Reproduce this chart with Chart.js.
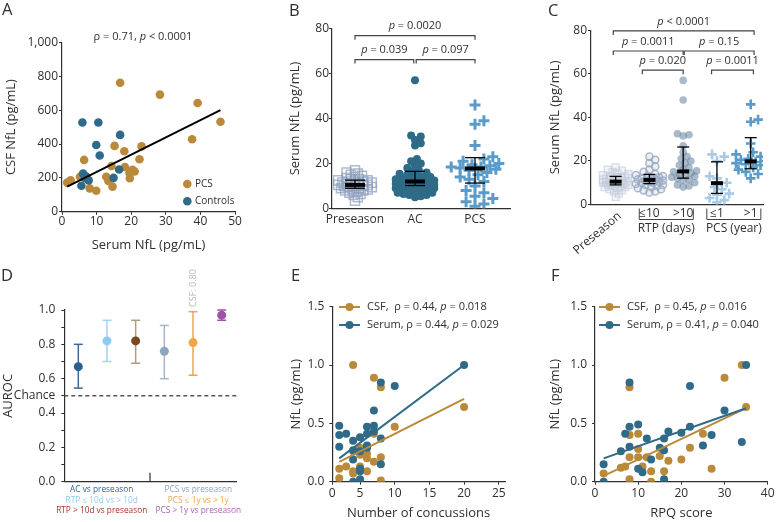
<!DOCTYPE html>
<html>
<head>
<meta charset="utf-8">
<script src="https://cdn.jsdelivr.net/npm/chart.js@4.4.1/dist/chart.umd.min.js"></script>
<style>
  html, body { margin: 0; padding: 0; background: #fff; }
  #wrap { position: relative; width: 777px; height: 522px; overflow: hidden; }
  #wrap canvas { position: absolute; left: 0; top: 0; }
</style>
</head>
<body>
<div id="wrap">
  <canvas id="cA" width="777" height="522"></canvas>
  <canvas id="cB" width="777" height="522"></canvas>
  <canvas id="cC" width="777" height="522"></canvas>
  <canvas id="cD" width="777" height="522"></canvas>
  <canvas id="cE" width="777" height="522"></canvas>
  <canvas id="cF" width="777" height="522"></canvas>
</div>
<script>
// ---------- data ----------

// A: CSF vs serum NfL
const aPcs = [[1.5,172],[2.5,185],[5.2,207],[6.4,306],[8.0,138],[9.9,124],[12.8,207],[13.4,182],[14.6,148],[14.3,270],
  [15.2,389],[16.8,762],[18.0,357],[18.2,264],[19.5,228],[19.6,198],[20.4,248],[21.0,238],[22.4,310],[23.0,386],
  [28.3,692],[37.6,428],[39.2,642],[45.8,532]];
const aControls = [[5.9,527],[10.5,527],[9.9,394],[10.9,332],[16.8,454],[16.5,249],[14.9,200],[6.1,225],[5.6,153],
  [7.0,208],[7.7,185],[6.6,200]];
const aFit = [[1.5,148],[45.8,600]];
const aStat = 'ρ = 0.71, _p_ < 0.0001';
const aSeries = ['PCS', 'Controls'];

// B: serum NfL by group
const bCats = ['Preseason', 'AC', 'PCS'];
const bPreseason = [3.5,5,6,6.5,7,7.5,8,8,8.5,8.5,9,9,9.5,9.5,10,10,10,10.5,10.5,11,11,11,11.5,11.5,12,12,12.5,12.5,
  13,13,13.5,14,14.5,15,15.5,16,17];
const bAC = [5,5.5,6,6,6.5,7,7,7.5,7.5,8,8,8.5,8.5,9,9,9,9.5,9.5,10,10,10,10.5,10.5,10.5,11,11,11,11.5,11.5,11.5,
  12,12,12,12.5,12.5,13,13,13.5,13.5,14,14,14.5,15,15.5,16,16.5,17,18,19,20,21,22,28,29,30.5,32,32.5,57];
const bPCS = [1,2,3,4.5,5.5,7,8,10,12,13,14,15,16,17,17.5,18,18.5,18.5,19,19.5,20,21,22,23,28,37.5,39,46];
const bMedian = [10.5, 12, 17.8];
const bQ1 = [9, 10.2, 11.3];
const bQ3 = [12.6, 16.5, 22.6];
const bPvals = ['= 0.0020', '= 0.039', '= 0.097'];

// C: serum NfL by RTP / PCS duration
const cCats = ['Preseason', '≤10', '>10', '≤1', '>1'];
const cGroups = ['RTP (days)', 'PCS (year)'];
const cPreseason = bPreseason;
const cRtpShort = [5.5,6,6.5,7,7.5,8,8.5,9,9,9.5,10,10,10.5,10.5,11,11,11.5,11.5,12,12,12.5,13,13,13.5,14,15,16,
  17.5,19,20.5,22];
const cRtpLong = [8,8.5,9,10,11,11.5,12,12.5,13,13.5,14,14.5,15,15.5,16,17,18,19,20,21,22,24,27,31.5,32,32.5,48,57];
const cPcsShort = [1,2,3,4.5,5,7,8,10,12,13,20,22,23];
const cPcsLong = [12,14,15,16,17,18,18.5,19,19.5,20,20.5,21,22,23,24,28,38,39,46];
const cMedian = [10.5, 11.3, 15.2, 9.8, 19.8];
const cQ1 = [9, 9.6, 12.1, 5.1, 16.4];
const cQ3 = [12.9, 13.8, 26.4, 19.6, 30.7];
const cPvals = ['< 0.0001', '= 0.0011', '= 0.15', '= 0.020', '= 0.0011'];

// D: AUROC
const dLabels = ['AC vs preseason', 'RTP ≤ 10d vs > 10d', 'RTP > 10d vs preseason',
  'PCS vs preseason', 'PCS ≤ 1y vs > 1y', 'PCS > 1y vs preseason'];
const dAuc = [0.67, 0.82, 0.82, 0.76, 0.81, 0.97];
const dLo = [0.545, 0.70, 0.69, 0.60, 0.62, 0.94];
const dHi = [0.80, 0.94, 0.94, 0.91, 0.99, 1.00];
const dChance = 0.5;
const dCsfNote = 'CSF: 0.80';

// E: NfL vs number of concussions
const eCsf = [[4,1.0],[7,0.89],[8,0.81],[10,0.47],[20,0.64],[7,0.41],[5,0.29],[6,0.30],[4,0.26],[5,0.23],[6,0.24],
  [6,0.20],[7,0.17],[8,0.21],[3,0.13],[2,0.11],[4,0.09],[4,0.07],[5,0.13],[5,0.11],[6,0.09],[2,0.03],[8,0.01]];
const eSerum = [[20,1.0],[8,0.85],[10,0.82],[7,0.61],[2,0.48],[2,0.40],[3,0.41],[6,0.47],[7,0.48],[5,0.38],[7,0.43],
  [6,0.41],[2,0.30],[4,0.35],[4,0.27],[6,0.31],[6,0.29],[8,0.37],[5,0.26],[4,0.19],[5,0.11],[5,0.09],[8,0.15],
  [5,0.02],[4,0.0]];
const eCsfFit = [[2,0.17],[20,0.71]];
const eSerumFit = [[2,0.2],[20,1.0]];
const eLegend = ['CSF,  ρ = 0.44, _p_ = 0.018', 'Serum, ρ = 0.44, _p_ = 0.029'];

// F: NfL vs RPQ score
const fCsf = [[2,0.07],[6,0.12],[7,0.13],[8,0.81],[8,0.40],[8,0.21],[8,0.02],[10,0.41],[10,0.28],[10,0.21],[11,0.13],
  [12,0.21],[13,0.09],[13,0.0],[15,0.22],[16,0.09],[17,0.18],[20,0.19],[22,0.29],[25,0.41],[27,0.11],[30,0.89],
  [34,1.0],[35,0.64]];
const fSerum = [[2,0.15],[2,0.0],[6,0.26],[7,0.41],[8,0.85],[8,0.47],[8,0.30],[10,0.49],[10,0.11],[11,0.08],[12,0.37],
  [13,0.19],[15,0.29],[16,0.37],[16,0.27],[16,0.02],[17,0.43],[20,0.42],[22,0.82],[22,0.47],[25,0.31],[27,0.40],
  [30,0.61],[34,0.34],[35,1.0]];
const fCsfFit = [[2,0.05],[35,0.63]];
const fSerumFit = [[2,0.2],[35,0.63]];
const fLegend = ['CSF,  ρ = 0.45, _p_ = 0.016', 'Serum, ρ = 0.41, _p_ = 0.040'];

// ---------- helpers ----------
const W = 777, H = 522;
const FONT = "'Open Sans', sans-serif";
const INK = '#2f2f2f';
const GOLD = '#BA8A3A', TEAL = '#2F6A88';

const pt = arr => arr.map(([x, y]) => ({x, y}));

// text with _italic_ runs
function rich(ctx, str, x, y, size, align, color) {
  const runs = str.split('_').map((s, i) => [s, i % 2 === 1]).filter(r => r[0]);
  ctx.save();
  ctx.textBaseline = 'middle';
  ctx.textAlign = 'left';
  ctx.fillStyle = color || INK;
  const fonts = runs.map(r => (r[1] ? 'italic ' : '') + size + 'px ' + FONT);
  const ws = runs.map((r, i) => { ctx.font = fonts[i]; return ctx.measureText(r[0]).width; });
  const total = ws.reduce((a, b) => a + b, 0);
  let cx = align === 'left' ? x : x - total / 2;
  runs.forEach((r, i) => { ctx.font = fonts[i]; ctx.fillText(r[0], cx, y); cx += ws[i]; });
  ctx.restore();
}

function txt(ctx, s, x, y, size, o = {}) {
  ctx.save();
  ctx.font = size + 'px ' + FONT;
  ctx.fillStyle = o.color || INK;
  ctx.textAlign = o.align || 'center';
  ctx.textBaseline = 'middle';
  ctx.translate(x, y);
  if (o.rot) ctx.rotate(o.rot);
  ctx.fillText(s, 0, 0);
  ctx.restore();
}

function line(ctx, pts, color, width, dash) {
  ctx.save();
  ctx.strokeStyle = color; ctx.lineWidth = width;
  if (dash) ctx.setLineDash(dash);
  ctx.beginPath();
  pts.forEach(([x, y], i) => i ? ctx.lineTo(x, y) : ctx.moveTo(x, y));
  ctx.stroke();
  ctx.restore();
}

function bracket(ctx, xs, ys, x0, x1, level, label) {
  const a = xs.getPixelForValue(x0), b = xs.getPixelForValue(x1), y = ys.getPixelForValue(level);
  line(ctx, [[a, y + 4], [a, y], [b, y], [b, y + 4]], '#444', 1.2);
  rich(ctx, '_p_ ' + label, (a + b) / 2, y - 9.5, 11);
}

function summaryBars(ctx, xs, ys, med, q1, q3, half) {
  med.forEach((m, i) => {
    const x = xs.getPixelForValue(i);
    const yl = ys.getPixelForValue(q1[i]), yh = ys.getPixelForValue(q3[i]), ym = ys.getPixelForValue(m);
    line(ctx, [[x, yl], [x, yh]], '#000', 1.3);
    line(ctx, [[x - half, yl], [x + half, yl]], '#000', 1.3);
    line(ctx, [[x - half, yh], [x + half, yh]], '#000', 1.3);
    line(ctx, [[x - half, ym], [x + half, ym]], '#000', 4);
  });
}

// simple deterministic beeswarm layout: values stay as read, only x spreads out
function swarm(vals, cat, pxX, pxY, d, maxHalf) {
  const placed = [], out = [];
  [...vals].sort((a, b) => a - b).forEach(v => {
    const y = v * pxY;
    let best = 0, bestGap = -1;
    for (let k = 0; k < 400; k++) {
      const off = (k % 2 ? 1 : -1) * Math.ceil(k / 2) * d * 0.35;
      if (Math.abs(off) > maxHalf) break;
      let gap = Infinity;
      placed.forEach(p => { gap = Math.min(gap, Math.hypot(p.x - off, p.y - y)); });
      if (gap >= d) { best = off; bestGap = gap; break; }
      if (gap > bestGap) { bestGap = gap; best = off; }
    }
    placed.push({x: best, y});
    out.push({x: cat + best / pxX, y: v});
  });
  return out;
}

function axis(o) {
  return {
    type: 'linear', min: o.min, max: o.max,
    border: { display: true, color: INK, width: 1.2 },
    grid: { display: !o.noMarks, drawOnChartArea: false, drawTicks: true, tickLength: 3, color: INK, lineWidth: 1 },
    ticks: {
      display: !o.noLabels, stepSize: o.step, padding: o.pad == null ? 1 : o.pad, color: INK,
      font: { family: FONT, size: 12 }, autoSkip: false, maxRotation: 0,
      callback: o.fmt || (v => v)
    },
    title: o.title ? { display: true, text: o.title, color: INK, font: { family: FONT, size: 13 }, padding: 0 }
                   : { display: false },
    afterBuildTicks: o.tickVals ? s => { s.ticks = o.tickVals.map(v => ({ value: v })); } : undefined,
    afterFit: s => {
      if (s.isHorizontal()) s.height = o.box; else s.width = o.box;
      s.paddingLeft = s.paddingRight = s.paddingTop = s.paddingBottom = 0;
    }
  };
}

// area = [left, top, right, bottom] of the plot area in page pixels
function makeChart(id, area, x, y, datasets, hooks) {
  const [l, t, r, b] = area;
  return new Chart(document.getElementById(id), {
    type: 'scatter',
    data: { datasets },
    options: {
      responsive: false, animation: false, events: [],
      layout: { padding: { left: l - y.box, top: t, right: W - r, bottom: H - b - x.box } },
      plugins: { legend: { display: false }, tooltip: { enabled: false } },
      scales: { x: axis(x), y: axis(y) }
    },
    plugins: [{
      id: 'decor' + id,
      beforeDatasetsDraw: c => hooks.before && hooks.before(c.ctx, c.scales.x, c.scales.y),
      afterDraw: c => hooks.after && hooks.after(c.ctx, c.scales.x, c.scales.y)
    }]
  });
}

function letter(ctx, s, x, y) { txt(ctx, s, x, y, 16.5, { align: 'left' }); }

function dots(data, color, r) {
  return { data: pt(data), pointRadius: r, pointBackgroundColor: color, pointBorderColor: color, pointBorderWidth: 0 };
}
function fitLine(data, color, w) {
  return { type: 'line', data: pt(data), showLine: true, borderColor: color, borderWidth: w, pointRadius: 0 };
}

// ---------- A ----------
makeChart('cA', [62, 42.5, 235, 211.7],
  { min: 0, max: 50, step: 10, box: 41.1, pad: 0, title: 'Serum NfL (pg/mL)' },
  { min: 0, max: 1000, step: 200, box: 58.8, pad: 1, title: 'CSF NfL (pg/mL)', fmt: v => v.toLocaleString('en-US') },
  [fitLine(aFit, '#000', 2), dots(aControls, TEAL, 4.3), dots(aPcs, GOLD, 4.3)],
  { after: (ctx) => {
      letter(ctx, 'A', 2, 10);
      rich(ctx, aStat, 143, 37, 11);
      [[GOLD, 184], [TEAL, 201.3]].forEach(([c, y], i) => {
        ctx.save(); ctx.fillStyle = c; ctx.beginPath(); ctx.arc(187.3, y, 4.3, 0, 7); ctx.fill(); ctx.restore();
        txt(ctx, aSeries[i], 195, y, 10, { align: 'left' });
      });
  } });

// ---------- B ----------
const bPxX = 60, bPxY = 180 / 80;
makeChart('cB', [332, 28.5, 510, 208.5],
  { min: -0.383, max: 2.583, box: 20, pad: 1, noMarks: true, tickVals: [0, 1, 2], fmt: v => bCats[v] },
  { min: 0, max: 80, step: 20, box: 44.3, pad: 0, title: 'Serum NfL (pg/mL)' },
  [
    { data: swarm(bPCS, 2, bPxX, bPxY, 8.5, 25), pointStyle: 'cross', pointRadius: 5.5, pointBorderWidth: 3,
      pointBorderColor: '#5B9BC9' },
    { data: swarm(bAC, 1, bPxX, bPxY, 5.5, 20), pointRadius: 4, pointBackgroundColor: '#2E6B87',
      pointBorderColor: '#2E6B87', pointBorderWidth: 0 },
    { data: swarm(bPreseason, 0, bPxX, bPxY, 4, 18), pointStyle: 'rect', pointRadius: 6.4, pointBorderWidth: 1.5,
      pointBackgroundColor: 'rgba(0,0,0,0)', pointBorderColor: 'rgba(140,158,188,0.7)' }
  ],
  { after: (ctx, xs, ys) => {
      letter(ctx, 'B', 289, 11);
      summaryBars(ctx, xs, ys, bMedian, bQ1, bQ3, 10);
      bracket(ctx, xs, ys, 0, 2, 76.8, bPvals[0]);
      bracket(ctx, xs, ys, 0, 0.98, 66.2, bPvals[1]);
      bracket(ctx, xs, ys, 1.02, 2, 66.2, bPvals[2]);
  } });

// ---------- C ----------
const cPxX = 33.75, cPxY = 174.2 / 80;
makeChart('cC', [591, 30.3, 763, 204.5],
  { min: -0.73, max: 4.364, box: 10, noMarks: true, noLabels: true },
  { min: 0, max: 80, step: 20, box: 43.5, pad: 1, title: 'Serum NfL (pg/mL)' },
  [
    { data: swarm(cPcsLong, 4, cPxX, cPxY, 7, 15), pointStyle: 'cross', pointRadius: 4.8, pointBorderWidth: 2.6,
      pointBorderColor: '#5B9BC9' },
    { data: swarm(cPcsShort, 3, cPxX, cPxY, 7, 14), pointStyle: 'cross', pointRadius: 4.8, pointBorderWidth: 2.6,
      pointBorderColor: '#A9CBE6' },
    { data: swarm(cRtpLong, 2, cPxX, cPxY, 5.5, 15), pointRadius: 3.8, pointBackgroundColor: 'rgba(98,130,158,0.55)',
      pointBorderColor: 'rgba(98,130,158,0.55)', pointBorderWidth: 0 },
    { data: swarm(cRtpShort, 1, cPxX, cPxY, 5.5, 15), pointRadius: 3.6, pointBorderWidth: 1.5,
      pointBackgroundColor: 'rgba(160,176,198,0.2)', pointBorderColor: 'rgba(150,168,192,0.8)' },
    { data: swarm(cPreseason, 0, cPxX, cPxY, 4.5, 14), pointStyle: 'rect', pointRadius: 5, pointBorderWidth: 1.3,
      pointBackgroundColor: 'rgba(210,216,228,0.25)', pointBorderColor: 'rgba(190,200,218,0.6)' }
  ],
  { after: (ctx, xs, ys) => {
      letter(ctx, 'C', 548, 11);
      summaryBars(ctx, xs, ys, cMedian, cQ1, cQ3, 6);
      bracket(ctx, xs, ys, -0.07, 4.1, 79.7, cPvals[0]);
      bracket(ctx, xs, ys, -0.07, 2.0, 70.5, cPvals[1]);
      bracket(ctx, xs, ys, 2.03, 4.1, 70.5, cPvals[2]);
      bracket(ctx, xs, ys, 0.79, 2.0, 61.7, cPvals[3]);
      bracket(ctx, xs, ys, 2.84, 4.08, 61.7, cPvals[4]);
      const base = ys.bottom;
      txt(ctx, cCats[0], xs.getPixelForValue(0) + 4, base + 10, 12, { align: 'right', rot: -0.7 });
      for (let i = 1; i < 5; i++) txt(ctx, cCats[i], xs.getPixelForValue(i), base + 9, 12);
      [[1, 2], [3, 4]].forEach(([a, b], g) => {
        const xa = xs.getPixelForValue(a - 0.3), xb = xs.getPixelForValue(b + 0.3), yb = base + 15;
        line(ctx, [[xa, base + 4], [xa, yb], [xb, yb], [xb, base + 4]], '#444', 1);
        txt(ctx, cGroups[g], (xs.getPixelForValue(a) + xs.getPixelForValue(b)) / 2, base + 24, 12);
      });
  } });

// ---------- D ----------
const dPoint = ['#2E5F92', '#8FCBF0', '#7A4A1F', '#8EA5C0', '#F2A446', '#A052A8'];
const dBar = ['#3A6A9A', '#9FD3F2', '#B49A7C', '#A4B6CC', '#F2A446', '#A052A8'];
const dText = ['#2E5F9E', '#8FCBF0', '#A8322C', '#8EA5C0', '#F2A446', '#B060B8'];
makeChart('cD', [64.3, 310, 236.7, 481.7],
  { min: -0.488, max: 5.523, box: 10, noMarks: true, noLabels: true },
  { min: 0, max: 1, step: 0.1, box: 64.3, pad: 6, title: 'AUROC',
    fmt: v => { const r = Math.round(v * 10); return r === dChance * 10 ? 'Chance' : (r % 2 ? '' : (r / 10).toFixed(1)); } },
  [{ data: dAuc.map((v, i) => ({ x: i, y: v })), pointRadius: 4.5, pointBackgroundColor: dPoint,
     pointBorderColor: dPoint, pointBorderWidth: 0 }],
  { before: (ctx, xs, ys) => {
      const yc = ys.getPixelForValue(dChance);
      line(ctx, [[xs.left, yc], [xs.right, yc]], '#555', 1.5, [4, 3]);
      dAuc.forEach((v, i) => {
        const x = xs.getPixelForValue(i), a = ys.getPixelForValue(dLo[i]), b = ys.getPixelForValue(dHi[i]);
        line(ctx, [[x, a], [x, b]], dBar[i], 1.5);
        line(ctx, [[x - 4.5, a], [x + 4.5, a]], dBar[i], 1.5);
        line(ctx, [[x - 4.5, b], [x + 4.5, b]], dBar[i], 1.5);
      });
    },
    after: (ctx, xs, ys) => {
      letter(ctx, 'D', 1, 276);
      const sx = xs.getPixelForValue(2.5);
      line(ctx, [[sx, ys.bottom], [sx, ys.bottom - 9]], INK, 1.2);
      txt(ctx, dCsfNote, xs.getPixelForValue(4), 288, 9, { color: '#b8b8b8', rot: -Math.PI / 2 });
      dLabels.forEach((s, i) => {
        const col = i < 3 ? 101.7 : 198.3, row = i % 3;
        txt(ctx, s, col, 489.3 + row * 10.9, 8.3, { color: dText[i] });
      });
  } });

// ---------- E & F ----------
function legendRows(ctx, x0, rows) {
  [[GOLD, 307], [TEAL, 325]].forEach(([c, y], i) => {
    line(ctx, [[x0, y], [x0 + 21, y]], c, 2);
    ctx.save(); ctx.fillStyle = c; ctx.beginPath(); ctx.arc(x0 + 10.5, y, 4, 0, 7); ctx.fill(); ctx.restore();
    rich(ctx, rows[i], x0 + 28, y, 11, 'left');
  });
}

makeChart('cE', [332.3, 306.7, 505, 481.7],
  { min: 1, max: 25.9, box: 39.4, pad: 1.5, title: 'Number of concussions', tickVals: [1, 5, 10, 15, 20, 25],
    fmt: v => v === 1 ? '0' : v },
  { min: 0, max: 1.5, step: 0.5, box: 44.1, pad: 5, title: 'NfL (pg/mL)', fmt: v => v.toFixed(1) },
  [fitLine(eSerumFit, TEAL, 2), fitLine(eCsfFit, GOLD, 2), dots(eSerum, TEAL, 4), dots(eCsf, GOLD, 4)],
  { after: (ctx) => { letter(ctx, 'E', 291, 276); legendRows(ctx, 339, eLegend); } });

makeChart('cF', [595, 306.7, 767.7, 481.7],
  { min: 0, max: 40, step: 10, box: 39.4, pad: 1.5, title: 'RPQ score' },
  { min: 0, max: 1.5, step: 0.5, box: 47.1, pad: 5, title: 'NfL (pg/mL)', fmt: v => v.toFixed(1) },
  [fitLine(fSerumFit, TEAL, 2), fitLine(fCsfFit, GOLD, 2), dots(fSerum, TEAL, 4), dots(fCsf, GOLD, 4)],
  { after: (ctx) => { letter(ctx, 'F', 551, 276); legendRows(ctx, 599, fLegend); } });
</script>
</body>
</html>
